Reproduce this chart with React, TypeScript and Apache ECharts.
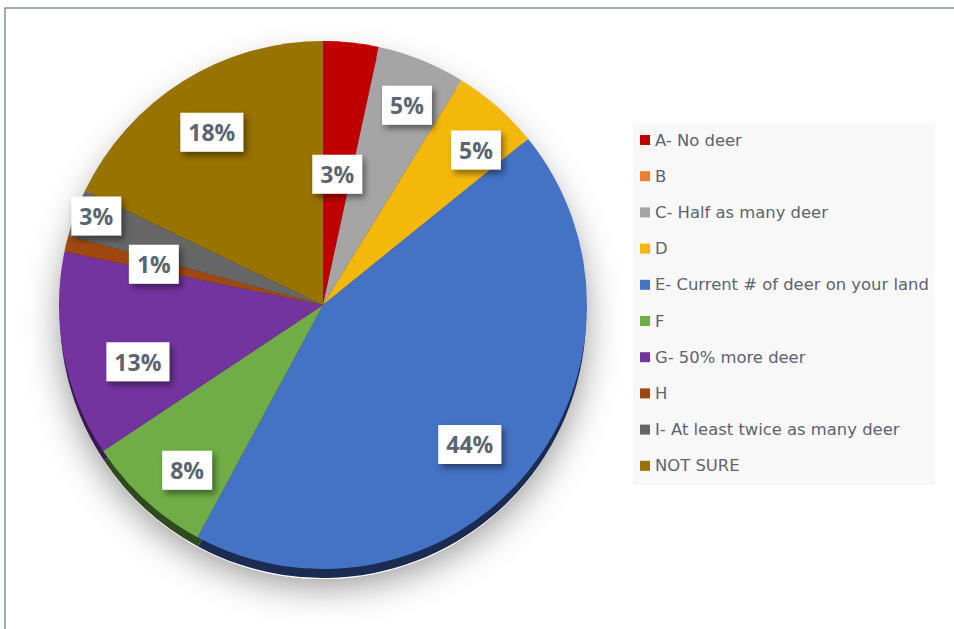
import React, { useEffect, useRef } from "react";
import * as echarts from "echarts";

const categories = [
  "A- No deer",
  "B",
  "C- Half as many deer",
  "D",
  "E- Current # of deer on your land",
  "F",
  "G- 50% more deer",
  "H",
  "I- At least twice as many deer",
  "NOT SURE",
];
const shares = [3.4, 0, 5.4, 5.4, 43.8, 7.8, 12.6, 1.0, 2.9, 17.9];

const colors = ["#C00000", "#ED7D31", "#A5A5A5", "#F4B80A", "#4472C4", "#70AD47", "#7434A0", "#9E480E", "#666666", "#997300"];
const rimColors = ["#5a0000", "#6e3a16", "#4d4d4d", "#7a5c05", "#1c2b52", "#2f4a1e", "#3a1a52", "#4a2207", "#333333", "#4a3800"];
// label nudges (dx, dy) in px
const labelNudge: [number, number][] = [
  [-8, 77], [0, 0], [6, -6], [15, 2], [-14, 6], [5, 11], [20, 17], [34, 8], [-31, -16], [0, 4],
];

const CX = 323;
const CY = 305;
const R = 264;

export default function App() {
  const ref = useRef<HTMLDivElement>(null);
  useEffect(() => {
    if (!ref.current) return;
    const chart = echarts.init(ref.current, null, { renderer: "svg" });
    const mainData = categories.map((n, i) => ({ name: n, value: shares[i], itemStyle: { color: colors[i] } }));
    const rimData = categories.map((n, i) => ({ name: n, value: shares[i], itemStyle: { color: rimColors[i] } }));
    const labelData = categories.map((n, i) => ({
      name: n,
      value: shares[i],
      label: { show: shares[i] > 0 },
    }));
    const total = shares.reduce((a, b) => a + b, 0);
    chart.setOption({
      animation: false,
      backgroundColor: "#ffffff",
      graphic: [
        {
          type: "rect",
          z: 0,
          shape: { x: 5, y: 8, width: 1000, height: 700 },
          style: { fill: "none", stroke: "#858e96", lineWidth: 1.5 },
        },
      ],
      legend: {
        orient: "vertical",
        left: 633,
        top: 123,
        data: categories,
        icon: "rect",
        itemWidth: 10,
        itemHeight: 10,
        itemGap: 20.2,
        backgroundColor: "#f8f8f8",
        padding: [9, 6, 11, 7],
        selectedMode: false,
        textStyle: { color: "#5b6471", fontSize: 16.4, lineHeight: 16, fontFamily: "DejaVu Sans" },
      },
      series: [
        {
          type: "pie",
          name: "main",
          z: 3,
          center: [CX, CY],
          radius: R,
          startAngle: 90,
          clockwise: true,
          silent: true,
          label: { show: false },
          labelLine: { show: false },
          itemStyle: { borderWidth: 0 },
          data: mainData,
        },
        {
          type: "pie",
          name: "base",
          z: 1,
          center: [CX, CY + 12],
          radius: R - 2,
          silent: true,
          label: { show: false },
          labelLine: { show: false },
          itemStyle: { color: "#ffffff", shadowBlur: 36, shadowColor: "rgba(0,0,0,0.42)", shadowOffsetY: 7 },
          data: [{ name: "__base", value: 1 }],
        },
        {
          type: "pie",
          name: "rim",
          z: 2,
          center: [CX, CY + 10],
          radius: R - 1,
          startAngle: 90,
          clockwise: true,
          silent: true,
          label: { show: false },
          labelLine: { show: false },
          itemStyle: { borderWidth: 0 },
          data: rimData,
        },
        {
          type: "pie",
          name: "labels",
          z: 4,
          center: [CX, CY],
          radius: [R * 0.56, R],
          startAngle: 90,
          clockwise: true,
          silent: true,
          itemStyle: { color: "rgba(0,0,0,0)", borderWidth: 0 },
          labelLine: { show: false },
          label: {
            show: true,
            position: "inside",
            formatter: (p: any) => Math.round((p.value / total) * 100) + "%",
            color: "#5b6471",
            fontFamily: "Open Sans",
            fontWeight: "bold",
            fontSize: 23,
            lineHeight: 26,
            backgroundColor: "#ffffff",
            padding: [7, 8, 6, 8],
            shadowBlur: 6,
            shadowColor: "rgba(0,0,0,0.45)",
            shadowOffsetX: 3,
            shadowOffsetY: 4,
          },
          labelLayout: (p: any) => {
            const n = labelNudge[p.dataIndex] || [0, 0];
            return { dx: n[0], dy: n[1] };
          },
          data: labelData,
        },
      ],
    });
    return () => chart.dispose();
  }, []);
  return (
    <div
      ref={ref}
      style={{ position: "fixed", left: 0, top: 0, width: 954, height: 629 }}
    />
  );
}
